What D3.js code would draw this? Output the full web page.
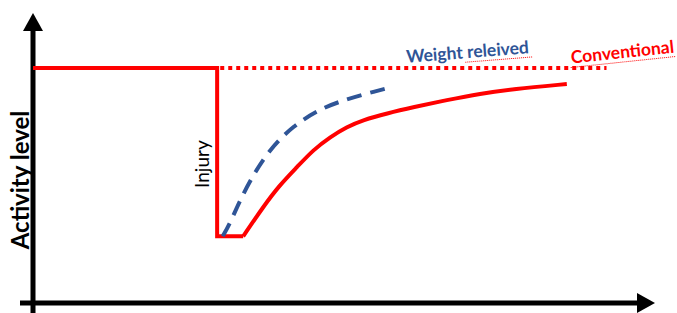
<!DOCTYPE html>
<html>
<head>
<meta charset="utf-8">
<script src="https://cdn.jsdelivr.net/npm/d3@7"></script>
<style>
  body { margin: 0; background: #fff; }
  svg { display: block; font-family: Lato, "Open Sans", sans-serif; }
</style>
</head>
<body>
<div id="chart"></div>
<script>
// data (time 0-100, activity level 0-100)
const conventional = [
  [0, 81], [29.7, 81], [29.7, 23], [33.9, 23]
];
const conventionalCurve = [
  [33.9, 23], [37.1, 33.1], [39.8, 40.7], [42.6, 46.9], [45.2, 52.8],
  [47.9, 57.2], [50.6, 60.7], [53.2, 63.1], [57.1, 65.4], [61.3, 67.5],
  [66.8, 70.0], [72.1, 72.2], [77.4, 73.8], [86.1, 75.5]
];
const weightRelieved = [
  [30.6, 23], [31.8, 27.6], [33.4, 35.5], [35.5, 44.1], [38.2, 53.0],
  [41.9, 61.0], [46.3, 67.0], [50.6, 70.3], [55.2, 73.0], [58.1, 74.6]
];
const preInjuryLevel = [[30.2, 81], [92.5, 81]];

// set the dimensions of the graph
const width = 677, height = 313;

const svg = d3.select("#chart")
  .append("svg")
  .attr("width", width)
  .attr("height", height);

const x = d3.scaleLinear().domain([0, 100]).range([33, 653]);
const y = d3.scaleLinear().domain([0, 100]).range([303, 13]);

const red = "#ff0000", blue = "#2f5597";

// axes as arrows
const [x0, x1] = x.range();
const [y0, y1] = y.range();
svg.append("line")
  .attr("x1", x0).attr("x2", x0)
  .attr("y1", height).attr("y2", y1 + 14)
  .attr("stroke", "#000").attr("stroke-width", 5);
svg.append("path")
  .attr("d", `M${x0},${y1} L${x0 - 10},${y1 + 18} L${x0 + 10},${y1 + 18} Z`)
  .attr("fill", "#000");
svg.append("line")
  .attr("x1", 20).attr("x2", x1 - 14)
  .attr("y1", y0).attr("y2", y0)
  .attr("stroke", "#000").attr("stroke-width", 5);
svg.append("path")
  .attr("d", `M${x1 + 2},${y0} L${x1 - 16},${y0 - 10} L${x1 - 16},${y0 + 10} Z`)
  .attr("fill", "#000");

const straight = d3.line().x(d => x(d[0])).y(d => y(d[1]));
const smooth = d3.line().x(d => x(d[0])).y(d => y(d[1])).curve(d3.curveBasis);

// dotted pre-injury level
svg.append("path")
  .attr("d", straight(preInjuryLevel))
  .attr("fill", "none")
  .attr("stroke", red).attr("stroke-width", 4)
  .attr("stroke-dasharray", "4,4");

// conventional
svg.append("path")
  .attr("d", straight(conventional))
  .attr("fill", "none")
  .attr("stroke", red).attr("stroke-width", 4)
  .attr("stroke-linejoin", "miter");
svg.append("path")
  .attr("d", smooth(conventionalCurve))
  .attr("fill", "none")
  .attr("stroke", red).attr("stroke-width", 4);

// weight relieved
svg.append("path")
  .attr("d", smooth(weightRelieved))
  .attr("fill", "none")
  .attr("stroke", blue).attr("stroke-width", 4)
  .attr("stroke-dasharray", "15,9");

// labels
svg.append("text")
  .attr("transform", `translate(29,${y(42.4)}) rotate(-90)`)
  .attr("text-anchor", "middle")
  .attr("font-size", 24).attr("font-weight", "bold")
  .text("Activity level");

svg.append("text")
  .attr("transform", `translate(209,${y(47.9)}) rotate(-90)`)
  .attr("text-anchor", "middle")
  .attr("font-size", 19)
  .text("Injury");

const wr = svg.append("g").attr("transform", "translate(468,58) rotate(-4.5)");
wr.append("text")
  .attr("text-anchor", "middle")
  .attr("font-size", 17.5).attr("font-weight", "bold")
  .attr("fill", blue)
  .text("Weight releived");
wr.append("line")
  .attr("x1", -3).attr("x2", 64).attr("y1", 4).attr("y2", 4)
  .attr("stroke", red).attr("stroke-width", 1).attr("stroke-dasharray", "1,1");

const cv = svg.append("g").attr("transform", "translate(623,58) rotate(-6)");
cv.append("text")
  .attr("text-anchor", "middle")
  .attr("font-size", 17.5).attr("font-weight", "bold")
  .attr("fill", red)
  .text("Conventional");
cv.append("line")
  .attr("x1", -53).attr("x2", 53).attr("y1", 4).attr("y2", 4)
  .attr("stroke", red).attr("stroke-width", 1).attr("stroke-dasharray", "1,1");
</script>
</body>
</html>
